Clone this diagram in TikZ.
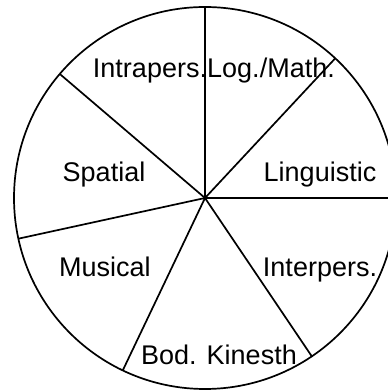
\documentclass[tikz,border=0pt]{standalone}
\usepackage{fontspec}
\setmainfont{Liberation Sans}
\usetikzlibrary{calc}
\begin{document}
\begin{tikzpicture}[x=1pt,y=1pt,
  line/.style={line width=1.7pt, black},
  lbl/.style={anchor=base, inner sep=0pt, font=\fontsize{27}{31}\selectfont}]
\useasboundingbox (0,0) rectangle (388,391);
\clip (0,0) rectangle (388,391);
\coordinate (c) at (205,193);
\draw[line] (c) circle (191);
\foreach \a/\n in {90/p1,47/p2,0/p3,-56/p4,-115.5/p5,-167.7/p6,139.5/p7}{
  \coordinate (\n) at ($(c)+(\a:191)$);
}
\foreach \n in {p1,p2,p3,p4,p5,p6,p7}{
  \draw[line] (c) -- (\n);
}
\node[lbl] (intra) at (150,313) {Intrapers.};
\node[lbl] (logm) at (271,313) {Log./Math.};
\node[lbl] (ling) at (320,209) {Linguistic};
\node[lbl] (spat) at (104,209) {Spatial};
\node[lbl] (mus) at (105,114) {Musical};
\node[lbl] (inter) at (320,114) {Interpers.};
\node[lbl] (bod) at (219,27) {Bod. Kinesth};
\end{tikzpicture}
\end{document}
